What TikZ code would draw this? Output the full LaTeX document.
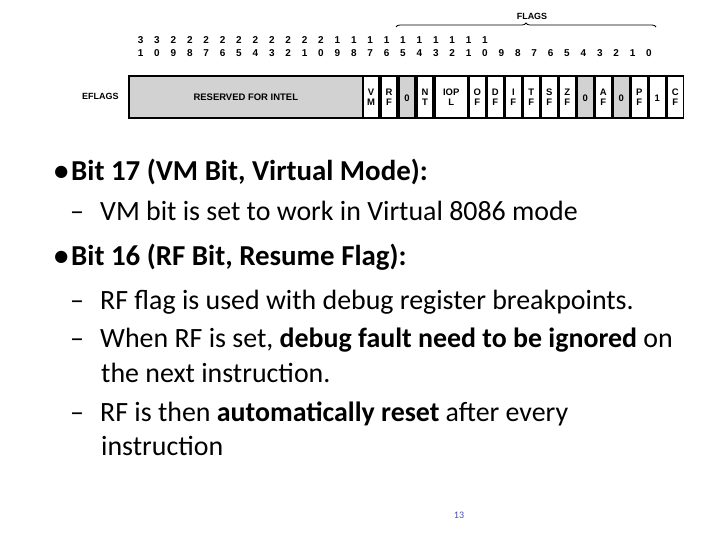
\documentclass[tikz,border=0pt]{standalone}
\usepackage{fontspec}
\setmainfont{Carlito}
\newfontfamily\regfont{Liberation Sans}
\usetikzlibrary{decorations.pathreplacing}

\begin{document}
\begin{tikzpicture}[x=1bp,y=-1bp]
\useasboundingbox (0,0) rectangle (720,540);
\tikzset{
  cell/.style={draw,line width=1.6pt,minimum height=42bp,inner sep=0pt,
    font=\regfont\fontsize{9.5}{10}\selectfont\bfseries,align=center},
  zero/.style={cell,fill=gray!35},
  bitnum/.style={font=\regfont\fontsize{10}{10}\selectfont\bfseries,inner sep=0pt},
  head/.style={anchor=base west,inner sep=0pt,font=\fontsize{29}{29}\selectfont\bfseries},
  body/.style={anchor=base west,inner sep=0pt,font=\fontsize{28}{28}\selectfont}
}
% register row
\node[zero,minimum width=234bp,anchor=north west] (res) at (128,75) {RESERVED FOR INTEL};
\node[cell,minimum width=16.4bp,anchor=north west] (vm) at (362,75) {V\\M};
\node[cell,minimum width=16.4bp,anchor=north west] (rf) at (vm.north east) {R\\F};
\node[zero,minimum width=16.4bp,anchor=north west] (z15) at (rf.north east) {\\0};
\node[cell,minimum width=16.4bp,anchor=north west] (nt) at (z15.north east) {N\\T};
\node[cell,minimum width=32.8bp,anchor=north west] (iopl) at (nt.north east) {IOP\\L};
\node[cell,minimum width=16.4bp,anchor=north west] (of) at (iopl.north east) {O\\F};
\node[cell,minimum width=16.4bp,anchor=north west] (df) at (of.north east) {D\\F};
\node[cell,minimum width=16.4bp,anchor=north west] (if) at (df.north east) {I\\F};
\node[cell,minimum width=16.4bp,anchor=north west] (tf) at (if.north east) {T\\F};
\node[cell,minimum width=16.4bp,anchor=north west] (sf) at (tf.north east) {S\\F};
\node[cell,minimum width=16.4bp,anchor=north west] (zf) at (sf.north east) {Z\\F};
\node[zero,minimum width=16.4bp,anchor=north west] (z5) at (zf.north east) {\\0};
\node[cell,minimum width=16.4bp,anchor=north west] (af) at (z5.north east) {A\\F};
\node[zero,minimum width=16.4bp,anchor=north west] (z3) at (af.north east) {\\0};
\node[cell,minimum width=16.4bp,anchor=north west] (pf) at (z3.north east) {P\\F};
\node[cell,minimum width=16.4bp,anchor=north west] (one) at (pf.north east) {\\1};
\node[cell,minimum width=16.4bp,anchor=north west] (cf) at (one.north east) {C\\F};
\node[font=\regfont\fontsize{9}{9}\selectfont\bfseries,anchor=east] (eflags) at (122,96) {EFLAGS};
% bit numbers
\foreach \b in {0,...,31}{
  \pgfmathtruncatemacro{\hi}{\b/10}
  \pgfmathtruncatemacro{\lo}{mod(\b,10)}
  \node[bitnum] (bit\b) at ({362+(17-\b+0.5)*16.4},53) {\lo};
  \ifnum\b>9
    \node[bitnum] (tens\b) at ({362+(17-\b+0.5)*16.4},40) {\hi};
  \fi
}
\coordinate (bl) at (396,27);
\coordinate (br) at (656,27);
\draw[line width=0.8pt,decorate,decoration={brace,amplitude=4bp}] (bl) -- (br);
\node[font=\regfont\fontsize{9}{9}\selectfont\bfseries] (flags) at (532,16) {FLAGS};
% text
\node[head] (b1) at (54,181) {\textbullet};
\node[head] (p1) at (71,181) {Bit 17 (VM Bit, Virtual Mode):};
\node[body] (d1) at (70,221) {--};
\node[body] (p1a) at (100,221) {VM bit is set to work in Virtual 8086 mode};
\node[head] (b2) at (54,266) {\textbullet};
\node[head] (p2) at (71,266) {Bit 16 (RF Bit, Resume Flag):};
\node[body] (d2) at (70,309) {--};
\node[body] (p2a) at (100,309) {RF flag is used with debug register breakpoints.};
\node[body] (d3) at (70,347) {--};
\node[body] (p2b) at (100,347) {When RF is set, \textbf{debug fault need to be ignored} on};
\node[body] (p2c) at (101,382) {the next instruction.};
\node[body] (d4) at (70,421) {--};
\node[body] (p2d) at (100,421) {RF is then \textbf{automatically reset} after every};
\node[body] (p2e) at (101,455) {instruction};
\node[font=\fontsize{10}{10}\selectfont,text=blue!40!gray] (page) at (459,515) {13};
\end{tikzpicture}
\end{document}
